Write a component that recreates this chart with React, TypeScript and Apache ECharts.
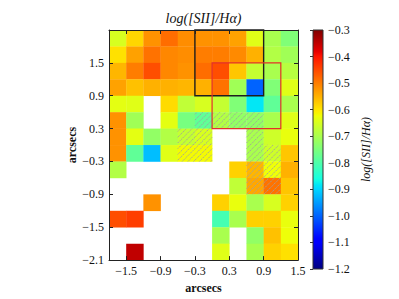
import { useEffect, useRef } from 'react';
import * as echarts from 'echarts';

// ---- data ----
const xCenters = [-1.65, -1.35, -1.05, -0.75, -0.45, -0.15, 0.15, 0.45, 0.75, 1.05, 1.35];
const yCenters = [1.95, 1.65, 1.35, 1.05, 0.75, 0.45, 0.15, -0.15, -0.45, -0.75, -1.05, -1.35, -1.65, -1.95];

const row0 = [-0.65, -0.585, -0.52, -0.485, -0.515, -0.52, -0.52, -0.535, -0.64, -0.70, -0.745];
const row1 = [-0.595, -0.534, -0.49, -0.51, -0.515, -0.50, -0.50, -0.512, -0.55, -0.69, -0.71];
const row2 = [-0.555, -0.50, -0.455, -0.51, -0.52, -0.485, -0.455, -0.57, -0.67, -0.70, -0.685];
const row3 = [-0.535, -0.565, -0.55, -0.55, -0.555, -0.55, -0.49, -0.71, -1.0, -0.745, -0.64];
const row4 = [-0.635, -0.64, null, -0.59, -0.675, -0.65, -0.67, -0.745, -0.883, -0.78, -0.70];
const row5 = [-0.52, -0.71, null, -0.635, -0.755, -0.78, -0.69, -0.725, -0.725, -0.70, -0.64];
const row6 = [-0.52, -0.635, -0.725, -0.69, -0.67, -0.65, null, null, -0.70, -0.66, -0.63];
const row7 = [-0.52, -0.78, -0.92, -0.64, -0.62, -0.62, null, null, -0.70, -0.66, -0.57];
const row8 = [-0.69, null, null, null, null, null, null, -0.58, -0.555, -0.625, -0.55];
const row9 = [null, null, null, null, null, null, null, -0.675, -0.54, -0.49, -0.57];
const row10 = [null, null, -0.52, null, null, null, -0.58, -0.63, -0.70, -0.65, -0.58];
const row11 = [-0.455, -0.44, null, null, null, null, -0.81, -0.70, -0.58, -0.58, -0.63];
const row12 = [null, null, null, null, null, null, -0.70, null, -0.725, -0.565, -0.625];
const row13 = [null, -0.35, null, null, null, null, -0.64, null, -0.70, -0.58, -0.595];
const ratioRows: (number | null)[][] = [row0, row1, row2, row3, row4, row5, row6, row7, row8, row9, row10, row11, row12, row13];

const hatchedCells: [number, number][] = [
  [-0.15, 0.45], [0.15, 0.45], [0.45, 0.45], [0.75, 0.45],
  [-0.45, 0.15], [-0.15, 0.15], [0.75, 0.15],
  [-0.45, -0.15], [-0.15, -0.15], [0.75, -0.15], [1.05, -0.15],
  [0.75, -0.45], [1.05, -0.45],
  [0.75, -0.75], [1.05, -0.75],
];

// boxes: [x0, y0, x1, y1]
const blackBox = [-0.3, 0.9, 0.9, 2.1];
const redBox = [0.0, 0.3, 1.2, 1.5];

const xTicks = [-1.5, -0.9, -0.3, 0.3, 0.9, 1.5];
const yTicks = [-2.1, -1.5, -0.9, -0.3, 0.3, 0.9, 1.5];
const cellSize = 0.3;
const vMin = -1.2;
const vMax = -0.3;

// ---- jet colormap ----
function interp(t: number, xs: number[], ys: number[]) {
  if (t <= xs[0]) return ys[0];
  for (let i = 1; i < xs.length; i++) {
    if (t <= xs[i]) {
      const f = (t - xs[i - 1]) / (xs[i] - xs[i - 1]);
      return ys[i - 1] + f * (ys[i] - ys[i - 1]);
    }
  }
  return ys[ys.length - 1];
}
function jet(t: number) {
  const r = interp(t, [0, 0.35, 0.66, 0.89, 1], [0, 0, 1, 1, 0.5]);
  const g = interp(t, [0, 0.125, 0.375, 0.64, 0.91, 1], [0, 0, 1, 1, 0, 0]);
  const b = interp(t, [0, 0.11, 0.34, 0.65, 1], [0.5, 1, 1, 0, 0]);
  const h = (v: number) => Math.round(Math.max(0, Math.min(1, v)) * 255).toString(16).padStart(2, '0');
  return '#' + h(r) + h(g) + h(b);
}
const N = 101;
const jetColors: string[] = [];
for (let i = 0; i < N; i++) jetColors.push(jet(i / (N - 1)));

const FONT = '"Liberation Serif", "DejaVu Serif", serif';
const fmt = (v: number) => {
  const s = Math.abs(v) < 1e-9 ? '0.0' : v.toFixed(1);
  return s.replace('-', '\u2212');
};

export default function App() {
  const ref = useRef<HTMLDivElement>(null);
  useEffect(() => {
    const chart = echarts.init(ref.current!, null, { renderer: 'svg' });

    const cellData: number[][] = [];
    const hatchSet = new Set(hatchedCells.map((p) => p[0].toFixed(2) + ',' + p[1].toFixed(2)));
    ratioRows.forEach((row, ri) => {
      row.forEach((v, ci) => {
        if (v === null) return;
        const x = xCenters[ci];
        const y = yCenters[ri];
        const hatched = hatchSet.has(x.toFixed(2) + ',' + y.toFixed(2)) ? 1 : 0;
        cellData.push([x, y, v, hatched]);
      });
    });

    const half = cellSize / 2;
    const cellRender = (_params: any, api: any) => {
      const x = api.value(0);
      const y = api.value(1);
      const p0 = api.coord([x - half, y + half]);
      const p1 = api.coord([x + half, y - half]);
      const w = p1[0] - p0[0];
      const h = p1[1] - p0[1];
      const children: any[] = [
        {
          type: 'rect',
          shape: { x: p0[0], y: p0[1], width: w + 0.3, height: h + 0.3 },
          style: { fill: api.visual('color') },
        },
      ];
      if (api.value(3) === 1) {
        const step = w / 3;
        const x0 = p0[0], y0 = p0[1];
        const cMin = x0 + y0;
        const cMax = x0 + w + y0 + h;
        for (let c = Math.ceil(cMin / step) * step; c < cMax; c += step) {
          const X1 = Math.max(x0, c - (y0 + h));
          const X2 = Math.min(x0 + w, c - y0);
          if (X2 - X1 < 0.5) continue;
          children.push({
            type: 'line',
            shape: { x1: X1, y1: c - X1, x2: X2, y2: c - X2 },
            style: { stroke: '#a0a0a0', lineWidth: 0.9, lineDash: [1.6, 0.8] },
          });
        }
      }
      return { type: 'group', children };
    };

    const boxRender = (_params: any, api: any) => {
      const p0 = api.coord([api.value(0), api.value(3)]);
      const p1 = api.coord([api.value(2), api.value(1)]);
      const color = api.value(4) === 0 ? '#1e1e1e' : '#e3302a';
      return {
        type: 'rect',
        shape: { x: p0[0], y: p0[1], width: p1[0] - p0[0], height: p1[1] - p0[1] },
        style: { fill: 'none', stroke: color, lineWidth: api.value(4) === 0 ? 1.4 : 1.2 },
      };
    };

    const barRender = (_params: any, api: any) => {
      const p0 = api.coord([0, vMax]);
      const p1 = api.coord([1, vMin]);
      return {
        type: 'rect',
        shape: { x: p0[0], y: p0[1], width: p1[0] - p0[0], height: p1[1] - p0[1] },
        style: {
          fill: {
            type: 'linear', x: 0, y: 1, x2: 0, y2: 0,
            colorStops: jetColors.map((c, i) => ({ offset: i / (N - 1), color: c })),
          },
          stroke: '#333',
          lineWidth: 1,
        },
      };
    };

    const axisLineStyle = { color: '#222', width: 1 };
    const tickLabel = { fontFamily: FONT, fontSize: 12, color: '#111' };

    chart.setOption({
      animation: false,
      title: {
        text: 'log([SII]/H\u03b1)',
        left: 203.5,
        top: 11,
        padding: 0,
        textAlign: 'center',
        textStyle: { fontFamily: FONT, fontStyle: 'italic', fontWeight: 'normal', fontSize: 14, color: '#111' },
      },
      grid: [
        { left: 109, top: 30, width: 189, height: 239 },
        { left: 313, top: 30, width: 10, height: 239 },
      ],
      visualMap: {
        type: 'continuous',
        show: false,
        min: vMin,
        max: vMax,
        dimension: 2,
        seriesIndex: 0,
        inRange: { color: jetColors },
      },
      xAxis: [
        {
          type: 'value', gridIndex: 0, min: -1.8, max: 1.5, position: 'bottom', z: 5,
          axisLine: { show: true, onZero: false, lineStyle: axisLineStyle },
          axisTick: { show: true, inside: true, length: 4, customValues: xTicks, lineStyle: axisLineStyle },
          axisLabel: { customValues: xTicks, formatter: fmt, margin: 5, ...tickLabel },
          splitLine: { show: false },
          name: 'arcsecs', nameLocation: 'middle', nameGap: 20,
          nameTextStyle: { fontFamily: FONT, fontWeight: 'bold', fontSize: 12, color: '#111' },
        },
        {
          type: 'value', gridIndex: 0, min: -1.8, max: 1.5, position: 'top', z: 5,
          axisLine: { show: true, onZero: false, lineStyle: axisLineStyle },
          axisTick: { show: true, inside: true, length: 4, customValues: xTicks, lineStyle: axisLineStyle },
          axisLabel: { show: false },
          splitLine: { show: false },
        },
        { type: 'value', gridIndex: 1, min: 0, max: 1, show: false },
      ],
      yAxis: [
        {
          type: 'value', gridIndex: 0, min: -2.1, max: 2.1, position: 'left', z: 5,
          axisLine: { show: true, onZero: false, lineStyle: axisLineStyle },
          axisTick: { show: true, inside: true, length: 4, customValues: yTicks, lineStyle: axisLineStyle },
          axisLabel: { customValues: yTicks, formatter: fmt, margin: 5, ...tickLabel },
          splitLine: { show: false },
          name: 'arcsecs', nameLocation: 'middle', nameGap: 30, nameRotate: 90,
          nameTextStyle: { fontFamily: FONT, fontWeight: 'bold', fontSize: 12, color: '#111' },
        },
        {
          type: 'value', gridIndex: 0, min: -2.1, max: 2.1, position: 'right', z: 5,
          axisLine: { show: true, onZero: false, lineStyle: axisLineStyle },
          axisTick: { show: true, inside: true, length: 4, customValues: yTicks, lineStyle: axisLineStyle },
          axisLabel: { show: false },
          splitLine: { show: false },
        },
        {
          type: 'value', gridIndex: 1, min: vMin, max: vMax, interval: 0.1, position: 'right', z: 5,
          axisLine: { show: false },
          axisTick: { show: true, inside: true, length: 3, lineStyle: { color: '#333' } },
          axisLabel: { formatter: fmt, margin: 5, ...tickLabel },
          splitLine: { show: false },
          name: 'log([SII]/H\u03b1)', nameLocation: 'middle', nameGap: 37, nameRotate: 90,
          nameTextStyle: { fontFamily: FONT, fontStyle: 'italic', fontSize: 12, color: '#111' },
        },
      ],
      series: [
        {
          type: 'custom', xAxisIndex: 0, yAxisIndex: 0, renderItem: cellRender, data: cellData,
          clip: true, z: 2,
        },
        {
          type: 'custom', xAxisIndex: 0, yAxisIndex: 0, renderItem: boxRender, z: 4,
          data: [
            [blackBox[0], blackBox[1], blackBox[2], blackBox[3], 0],
            [redBox[0], redBox[1], redBox[2], redBox[3], 1],
          ],
        },
        {
          type: 'custom', xAxisIndex: 2, yAxisIndex: 2, renderItem: barRender, z: 2,
          data: [[0, vMin]],
        },
      ],
    });
    return () => chart.dispose();
  }, []);
  return <div ref={ref} style={{ position: 'absolute', left: 0, top: 0, width: 399, height: 299, background: '#fff' }} />;
}
